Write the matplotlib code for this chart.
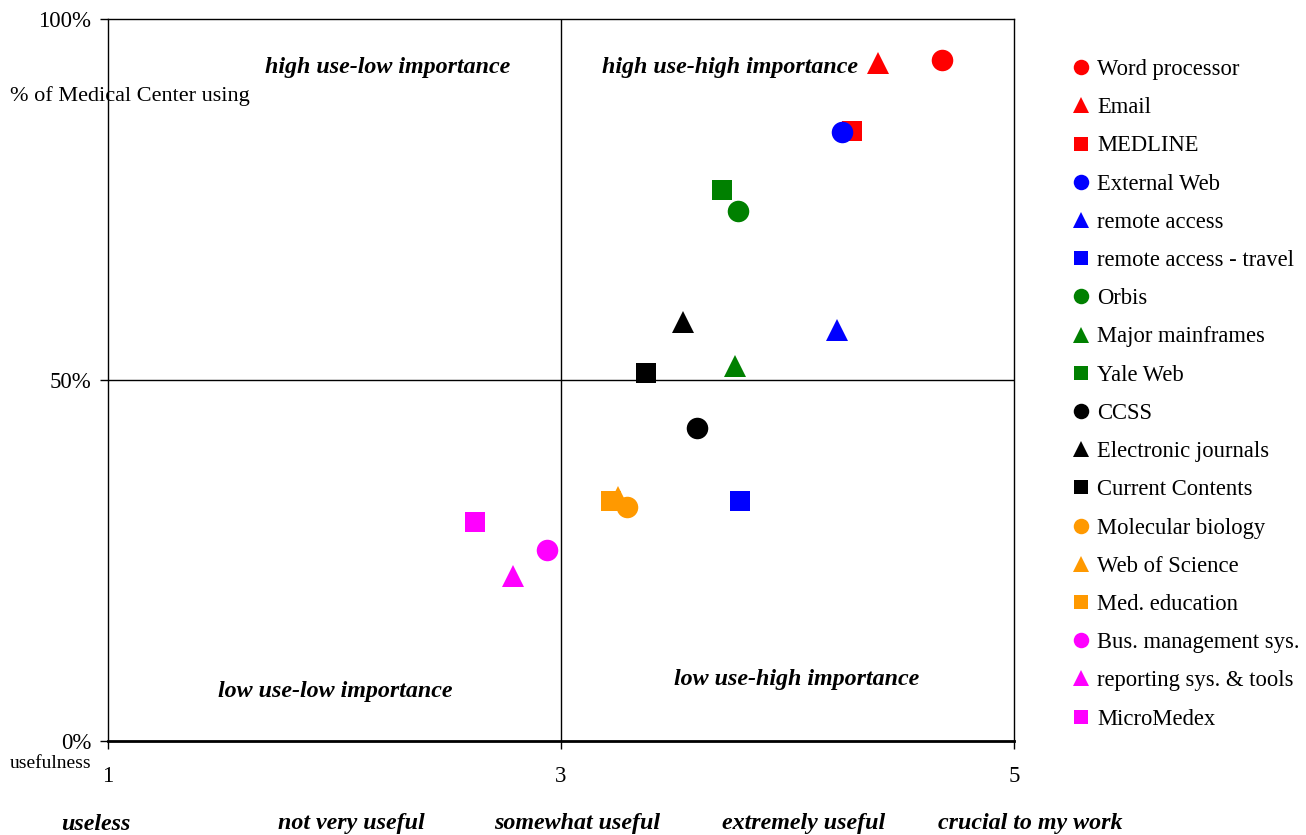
import matplotlib
matplotlib.use("Agg")
import matplotlib.pyplot as plt

plt.rcParams['font.family'] = ['Liberation Serif', 'DejaVu Serif']

# data: (usefulness 1-5, % of Medical Center using)
names = ["Word processor", "Email", "MEDLINE", "External Web", "remote access",
         "remote access - travel", "Orbis", "Major mainframes", "Yale Web", "CCSS",
         "Electronic journals", "Current Contents", "Molecular biology",
         "Web of Science", "Med. education", "Bus. management sys.",
         "reporting sys. & tools", "MicroMedex"]
usefulness = [4.68, 4.40, 4.285, 4.24, 4.22, 3.79, 3.78, 3.77, 3.71, 3.60,
              3.54, 3.375, 3.29, 3.25, 3.22, 2.94, 2.79, 2.62]
pct_using = [94.3, 93.9, 84.5, 84.3, 56.9, 33.2, 73.4, 51.9, 76.3, 43.4,
             58.0, 51.0, 32.4, 33.8, 33.2, 26.5, 22.9, 30.3]
colors = ["red", "red", "red", "blue", "blue", "blue", "green", "green", "green",
          "black", "black", "black", "#ff9900", "#ff9900", "#ff9900",
          "magenta", "magenta", "magenta"]
markers = ["o", "^", "s"] * 6

xticks = [1, 3, 5]
yticks = [0, 50, 100]
scale_labels = ["useless", "not very useful", "somewhat useful",
                "extremely useful", "crucial to my work"]

fig = plt.figure(figsize=(13.06, 8.35), dpi=100)
ax = fig.add_axes([108/1306, 94/835, 906/1306, 722/835])

sizes = {"o": 15.5, "^": 15.5, "s": 14.5}
for n, x, y, c, m in zip(names, usefulness, pct_using, colors, markers):
    ax.plot(x, y, linestyle="none", marker=m, color=c, markersize=sizes[m],
            markeredgewidth=0, label=n)

# quadrant dividers
ax.axvline(3, color="black", lw=1)
ax.axhline(50, color="black", lw=1)

ax.set_xlim(1, 5)
ax.set_ylim(0, 100)
ax.set_xticks(xticks)
ax.set_xticklabels([str(t) for t in xticks])
ax.set_yticks(yticks)
ax.set_yticklabels([f"{t}%" for t in yticks])
ax.tick_params(axis="both", direction="out", length=6, width=1, labelsize=16.5)
ax.tick_params(axis="x", pad=12)
ax.tick_params(axis="y", pad=6)
for s in ax.spines.values():
    s.set_linewidth(1)
ax.spines["bottom"].set_linewidth(2)

qfont = dict(fontsize=17.3, fontweight="bold", fontstyle="italic", ha="center", va="center")
ax.text(1 + (388 - 108) / 226.5, 100 - (68 - 19) / 7.22, "high use-low importance", **qfont)
ax.text(1 + (730 - 108) / 226.5, 100 - (68 - 19) / 7.22, "high use-high importance", **qfont)
ax.text(1 + (335 - 108) / 226.5, (741 - 692) / 7.22, "low use-low importance", **qfont)
ax.text(1 + (797 - 108) / 226.5, (741 - 680) / 7.22, "low use-high importance", **qfont)

fig.text(10/1306, 1 - 96/835, "% of Medical Center using", fontsize=16, ha="left", va="center")
fig.text(10/1306, 1 - 763/835, "usefulness", fontsize=14, ha="left", va="center")

label_x = [96, 351, 577, 804, 1030]
for lx, lab in zip(label_x, scale_labels):
    fig.text(lx/1306, 1 - 824/835, lab, fontsize=17.3, fontweight="bold",
             fontstyle="italic", ha="center", va="center")

ax.legend(loc="upper left", bbox_to_anchor=(1063/1306, 1 - 50/835),
          bbox_transform=fig.transFigure, frameon=False, fontsize=16.3,
          markerscale=0.72, handlelength=0.8, handletextpad=0.3,
          labelspacing=0.76, borderaxespad=0, numpoints=1)

fig.savefig("out.png", dpi=100)
